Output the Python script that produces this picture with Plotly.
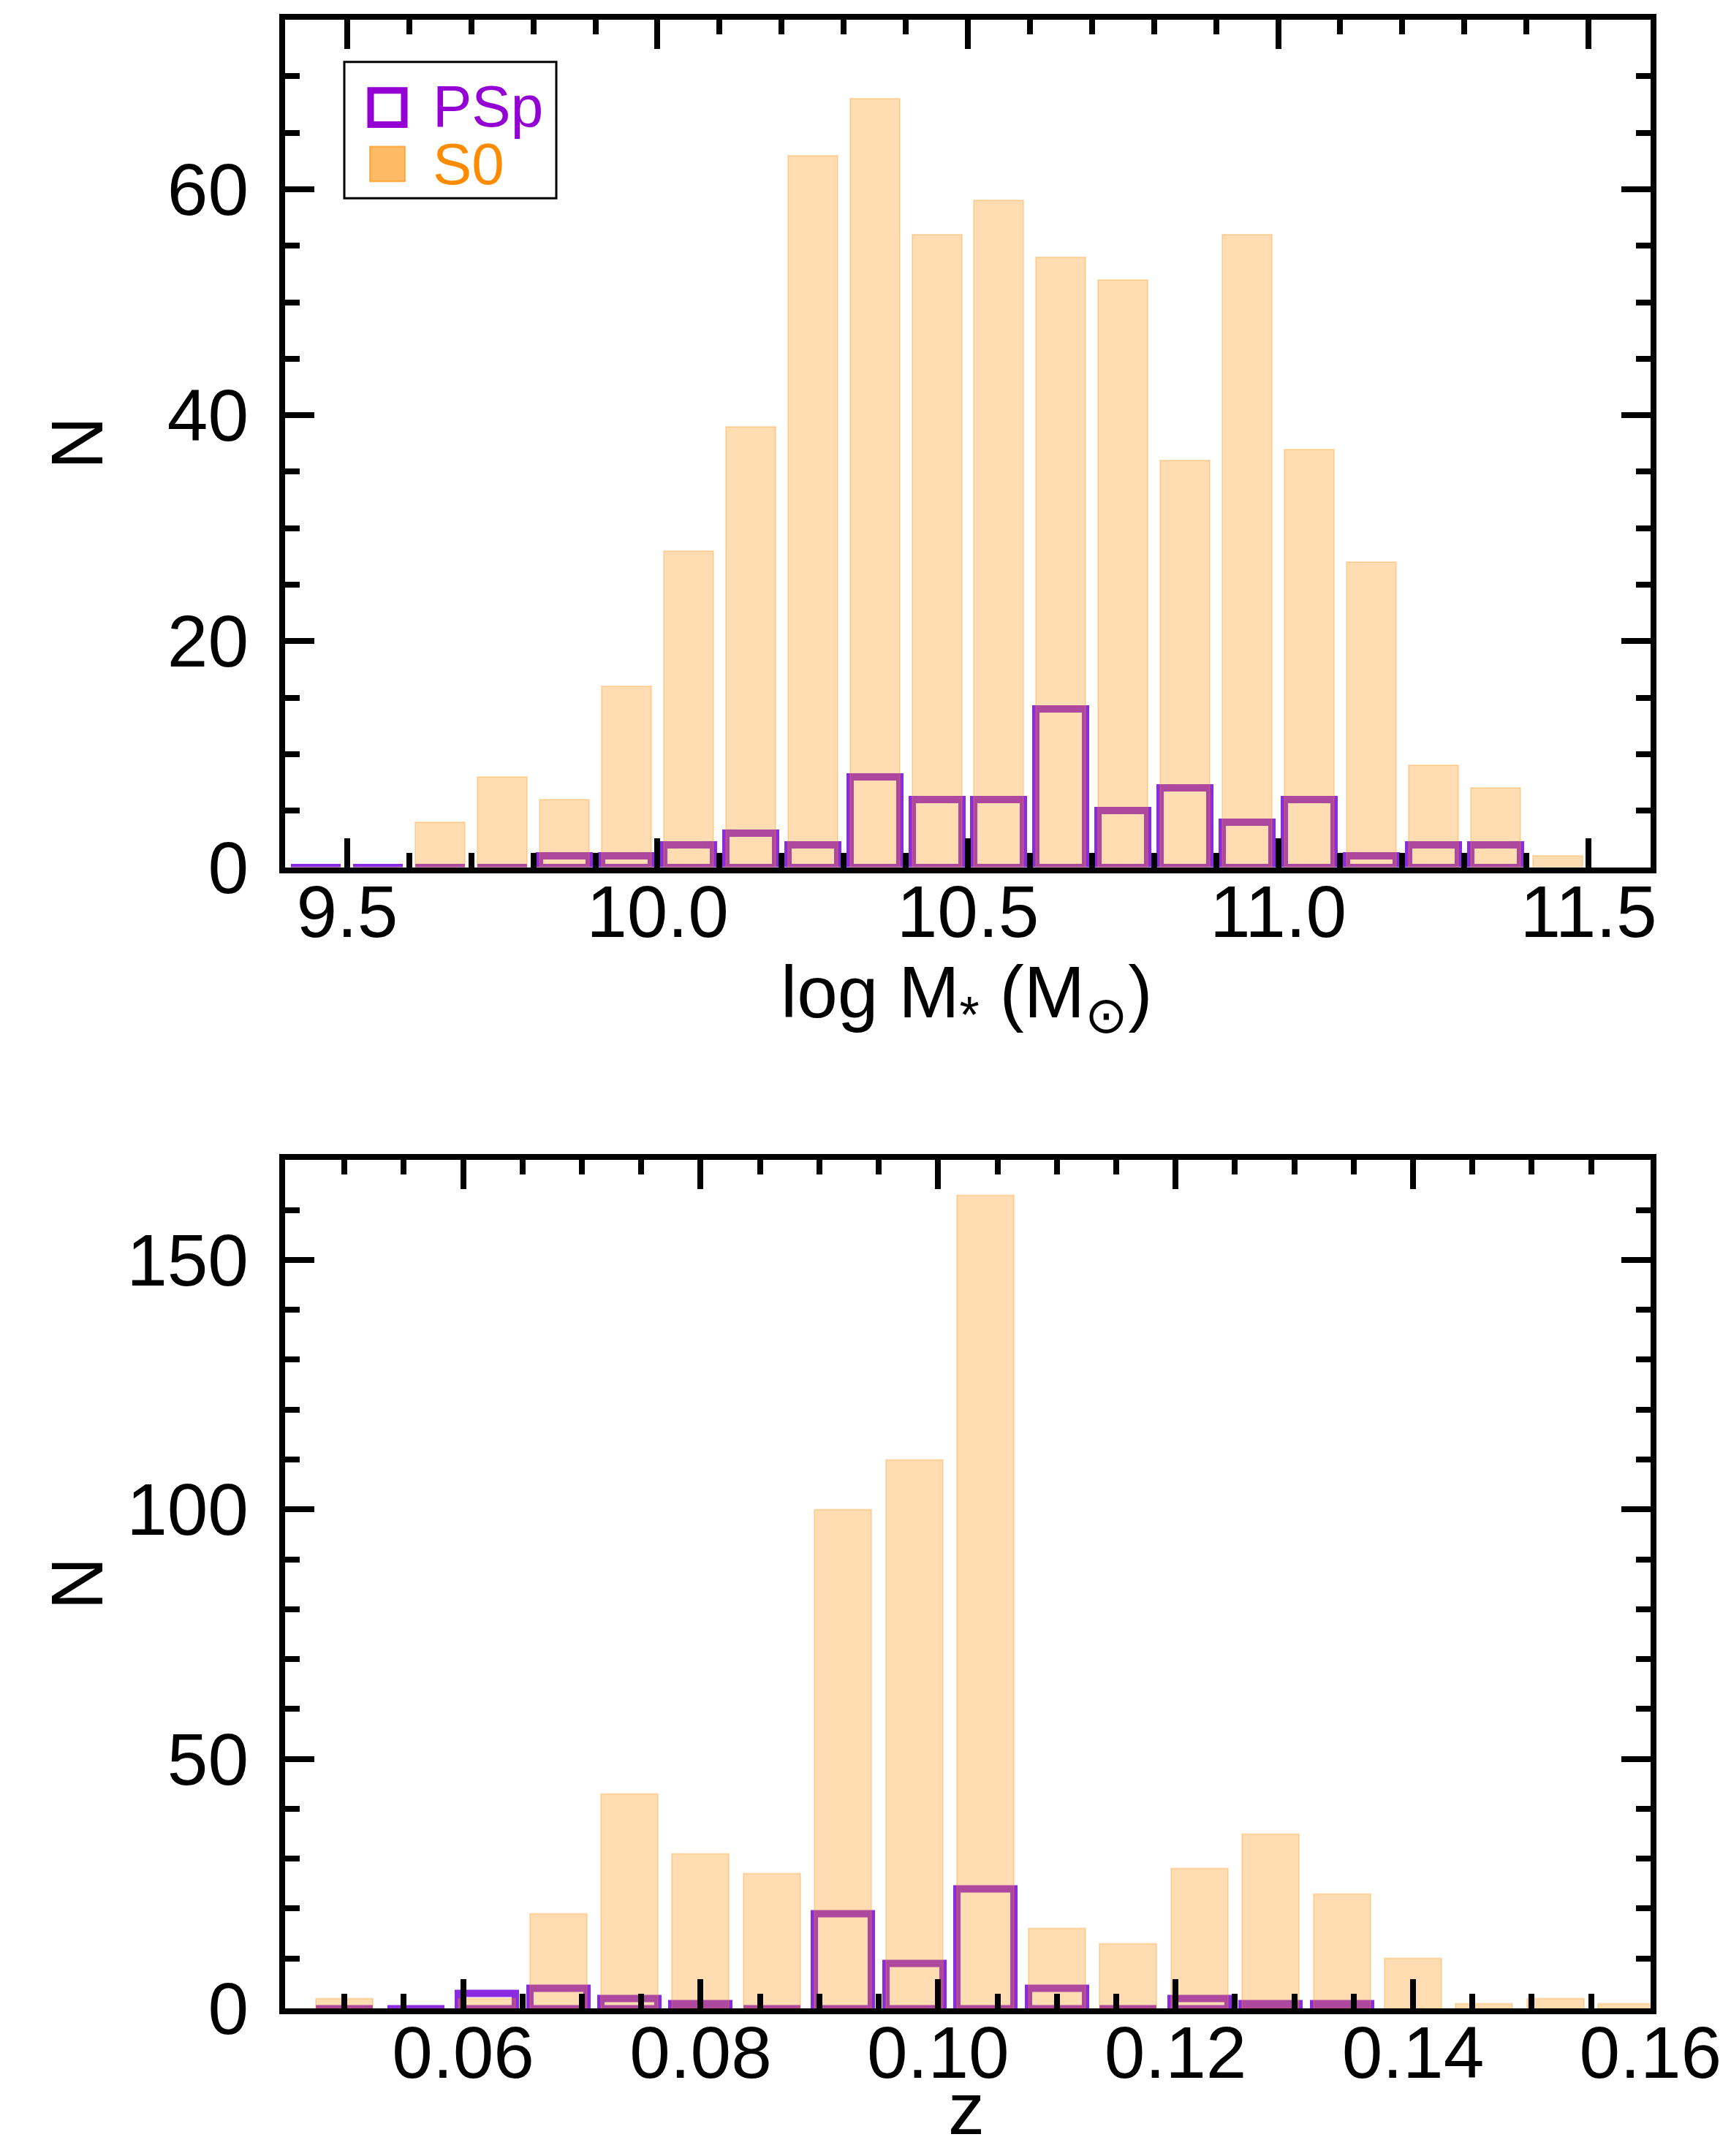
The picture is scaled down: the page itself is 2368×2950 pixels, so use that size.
import plotly.graph_objects as go
from plotly.subplots import make_subplots

# stellar mass histogram (bin centres, 0.1 dex bins)
mass_bins = [9.45, 9.55, 9.65, 9.75, 9.85, 9.95, 10.05, 10.15, 10.25, 10.35, 10.45,
             10.55, 10.65, 10.75, 10.85, 10.95, 11.05, 11.15, 11.25, 11.35, 11.45]
s0_mass = [0, 0, 4, 8, 6, 16, 28, 39, 63, 68, 56, 59, 54, 52, 36, 56, 37, 27, 9, 7, 1]
psp_mass = [0, 0, 0, 0, 1, 1, 2, 3, 2, 8, 6, 6, 14, 5, 7, 4, 6, 1, 2, 2]

# redshift histogram (bin centres, 0.006 bins)
z_bins = [0.050, 0.056, 0.062, 0.068, 0.074, 0.080, 0.086, 0.092, 0.098, 0.104,
          0.110, 0.116, 0.122, 0.128, 0.134, 0.140, 0.146, 0.152, 0.158]
s0_z = [2, 0, 2, 19, 43, 31, 27, 100, 110, 163, 16, 13, 28, 35, 23, 10, 1, 2, 1]
psp_z = [0, 0, 3, 4, 2, 1, 0, 19, 9, 24, 4, 0, 2, 1, 1]

FONT = "Liberation Sans, Arial, Helvetica, sans-serif"
W, H = 2368, 2950
OFF = 8            # default body margin of the html page
LW = 8             # axis line width (plotly draws it just outside the plot area)

# axis-line centres wanted in the picture
L, R = 386, 2262
TOP_T, TOP_B = 15, 1186
BOT_T, BOT_B = 1580, 2752

# inner plot-area edges in page coordinates
Li, Ri = L + LW / 2 - OFF, R - LW / 2 - OFF
Ti, Bi = TOP_T + LW / 2 - OFF, BOT_B - LW / 2 - OFF

PSP_LINE = "rgb(138,43,226)"
S0_FILL = "rgba(255,140,0,0.3)"
S0_EDGE = "rgba(255,140,0,0.25)"


def px_x(p):
    # picture pixel -> paper x
    return (p - OFF - Li) / (Ri - Li)


def px_y(p):
    # picture pixel -> paper y
    return (Bi - (p - OFF)) / (Bi - Ti)


fig = make_subplots(rows=2, cols=1)

# PSp outlines first, S0 translucent bars on top
fig.add_trace(go.Bar(x=mass_bins[:len(psp_mass)], y=psp_mass, width=0.08, name="PSp",
                     marker=dict(color="rgba(0,0,0,0)", line=dict(color=PSP_LINE, width=10))),
              row=1, col=1)
fig.add_trace(go.Bar(x=mass_bins, y=s0_mass, width=0.08, name="S0",
                     marker=dict(color=S0_FILL, line=dict(color=S0_EDGE, width=2))),
              row=1, col=1)
fig.add_trace(go.Bar(x=z_bins[:len(psp_z)], y=psp_z, width=0.0048, name="PSp",
                     marker=dict(color="rgba(0,0,0,0)", line=dict(color=PSP_LINE, width=10))),
              row=2, col=1)
fig.add_trace(go.Bar(x=z_bins, y=s0_z, width=0.0048, name="S0",
                     marker=dict(color=S0_FILL, line=dict(color=S0_EDGE, width=2))),
              row=2, col=1)

axis_style = dict(showline=True, linewidth=LW, linecolor="black", mirror="allticks",
                  ticks="inside", ticklen=40, tickwidth=8, tickcolor="black",
                  showgrid=False, zeroline=False,
                  tickfont=dict(family=FONT, size=100, color="black"))

fig.update_xaxes(axis_style, ticklabelstandoff=-33)
fig.update_yaxes(axis_style, ticklabelstandoff=22)


def minor(step):
    return dict(ticks="inside", ticklen=20, tickwidth=8, tickcolor="black", dtick=step)


fig.update_xaxes(range=[9.4, 11.6], tick0=9.5, dtick=0.5, tickformat=".1f",
                 minor=minor(0.1), domain=[0, 1], row=1, col=1)
fig.update_yaxes(range=[0, 75], tick0=0, dtick=20, minor=minor(5),
                 domain=[px_y(TOP_B - LW / 2), 1], row=1, col=1)
fig.update_xaxes(range=[0.045, 0.16001], tick0=0.06, dtick=0.02, tickformat=".2f",
                 minor=minor(0.005), domain=[0, 1], row=2, col=1)
fig.update_yaxes(range=[0, 170], tick0=0, dtick=50, minor=minor(10),
                 domain=[0, px_y(BOT_T + LW / 2)], row=2, col=1)

title_font = dict(family=FONT, size=100, color="black")
annotations = [
    dict(text="log M<sub>*</sub> (M<sub>⊙</sub>)", x=px_x(1322), y=px_y(1360),
         xanchor="center", yanchor="middle"),
    dict(text="z", x=px_x(1322), y=px_y(2885), xanchor="center", yanchor="middle"),
    dict(text="N", x=px_x(105), y=px_y(600), xanchor="center", yanchor="middle", textangle=-90),
    dict(text="N", x=px_x(105), y=px_y(2165), xanchor="center", yanchor="middle", textangle=-90),
    # hand-drawn legend text
    dict(text="PSp", x=px_x(590), y=px_y(138), xanchor="left", yanchor="middle",
         font=dict(family=FONT, size=80, color="rgb(148,0,211)")),
    dict(text="S0", x=px_x(590), y=px_y(217), xanchor="left", yanchor="middle",
         font=dict(family=FONT, size=80, color="rgb(255,140,0)")),
]
for a in annotations:
    a.update(xref="paper", yref="paper", showarrow=False)
    a.setdefault("font", title_font)

shapes = [
    dict(type="rect", x0=px_x(471), x1=px_x(761), y0=px_y(77), y1=px_y(264),
         line=dict(color="black", width=3), fillcolor="white"),
    dict(type="rect", x0=px_x(507), x1=px_x(553), y0=px_y(116), y1=px_y(163),
         line=dict(color="rgb(148,0,211)", width=9), fillcolor="rgba(0,0,0,0)"),
    dict(type="rect", x0=px_x(506), x1=px_x(554), y0=px_y(193), y1=px_y(241),
         line=dict(color="rgba(255,140,0,0.6)", width=2), fillcolor="rgba(255,140,0,0.6)"),
]
for s in shapes:
    s.update(xref="paper", yref="paper", layer="above")

fig.update_layout(
    width=W, height=H,
    margin=dict(l=Li, r=W - Ri, t=Ti, b=H - Bi, pad=0),
    paper_bgcolor="white", plot_bgcolor="white",
    barmode="overlay", bargap=0, showlegend=False,
    font=dict(family=FONT, color="black"),
    annotations=annotations, shapes=shapes,
)

fig.write_html("out.html")
